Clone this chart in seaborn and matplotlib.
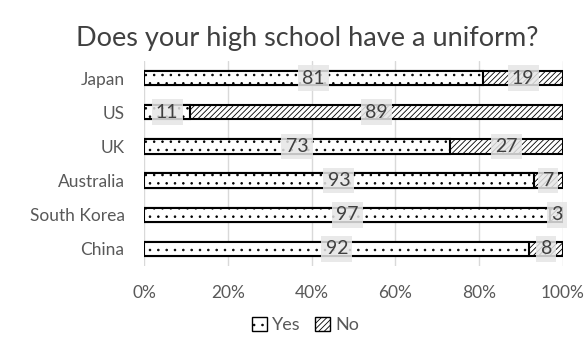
import matplotlib
matplotlib.use("Agg")
import matplotlib.pyplot as plt
import seaborn as sns
import pandas as pd
from matplotlib.patches import Patch

countries = ["Japan", "US", "UK", "Australia", "South Korea", "China"]
yes = [81, 11, 73, 93, 97, 92]
no = [19, 89, 27, 7, 3, 8]
xticks = [0, 20, 40, 60, 80, 100]
xticklabels = ["0%", "20%", "40%", "60%", "80%", "100%"]

sns.set_style("white")
plt.rcParams["font.family"] = ["Lato", "DejaVu Sans"]
plt.rcParams["hatch.linewidth"] = 0.6

df = pd.DataFrame({"country": countries, "yes": yes, "no": no})
df["total"] = df["yes"] + df["no"]

fig = plt.figure(figsize=(5.88, 3.43), dpi=100)
ax = fig.add_axes([0.245, 0.2245, 0.7125, 0.5977])

sns.barplot(data=df, x="total", y="country", orient="h", color="white",
            edgecolor="black", linewidth=1.5, width=0.42, ax=ax, zorder=2)
for p in ax.patches:
    p.set_hatch("//////")
n_no = len(ax.patches)
sns.barplot(data=df, x="yes", y="country", orient="h", color="white",
            edgecolor="black", linewidth=1.5, width=0.42, ax=ax, zorder=3)
for p in ax.patches[n_no:]:
    p.set_hatch("..")

bbox = dict(boxstyle="square,pad=0.22", fc="#e6e6e6", ec="none", alpha=0.85)
tcol = "#404040"
for i, (y_, n_) in enumerate(zip(yes, no)):
    ax.text(y_ / 2, i, str(y_), ha="center", va="center", fontsize=14,
            color=tcol, bbox=bbox, zorder=5)
    ax.text(y_ + n_ / 2, i, str(n_), ha="center", va="center", fontsize=14,
            color=tcol, bbox=bbox, zorder=5)

ax.set_xlim(0, 100)
ax.set_ylim(5.5, -0.5)
ax.set_xticks(xticks)
ax.set_xticklabels(xticklabels)
ax.xaxis.grid(True, color="#d9d9d9", linewidth=1)
ax.set_axisbelow(True)
for s in ax.spines.values():
    s.set_visible(False)
ax.set_xlabel("")
ax.set_ylabel("")
ax.tick_params(axis="both", length=0, labelsize=12.5, colors="#595959")
ax.tick_params(axis="x", pad=14)
ax.tick_params(axis="y", pad=14)

fig.suptitle("Does your high school have a uniform?", x=0.522, y=0.925,
             fontsize=19.5, color="#404040")

handles = [Patch(facecolor="white", edgecolor="black", hatch="..", label="Yes"),
           Patch(facecolor="white", edgecolor="black", hatch="//////", label="No")]
fig.legend(handles=handles, loc="center", bbox_to_anchor=(0.52, 0.052), ncol=2,
           frameon=False, fontsize=13, labelcolor="#595959", handlelength=0.8,
           handleheight=0.8, handletextpad=0.3, columnspacing=0.8)

fig.savefig("out.png", dpi=100)
